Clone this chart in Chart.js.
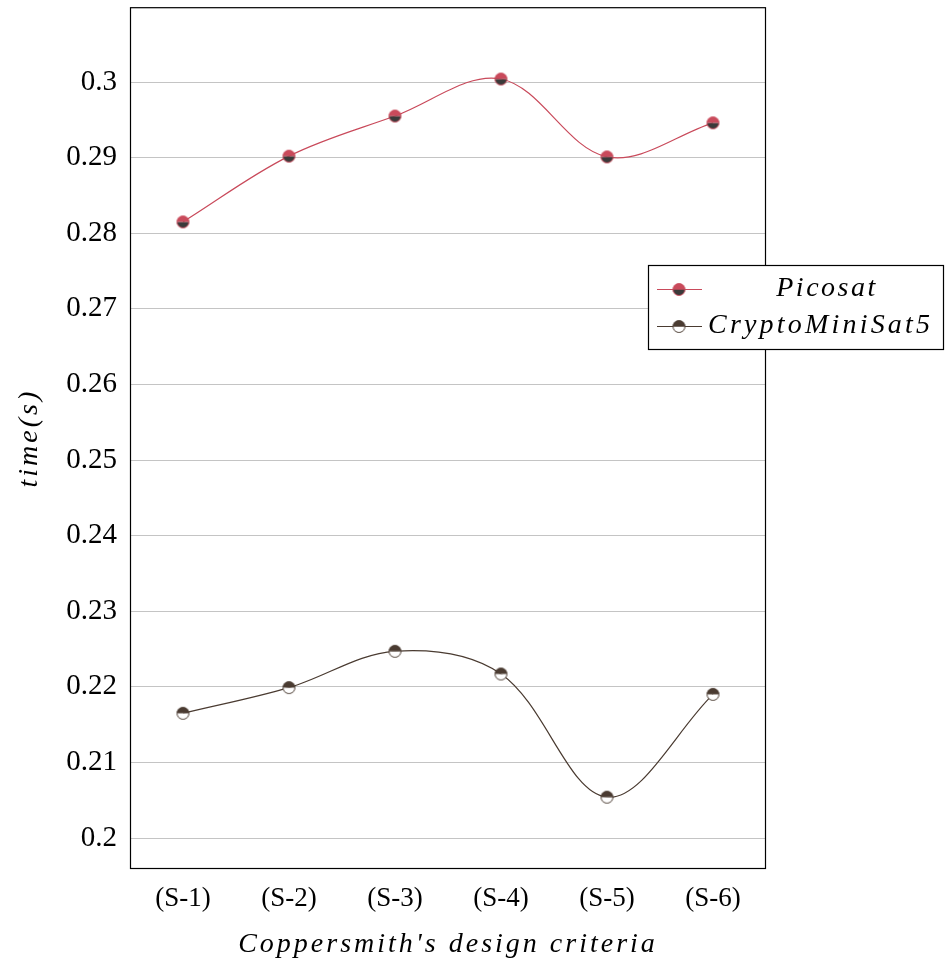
<!DOCTYPE html>
<html>
<head>
<meta charset="utf-8">
<script src="https://cdn.jsdelivr.net/npm/chart.js@4"></script>
<style>
  body { margin: 0; background: #fff; }
  #chart { display: block; }
</style>
</head>
<body>
<canvas id="chart" width="945" height="964"></canvas>
<script>
// données
const categories = ['(S-1)', '(S-2)', '(S-3)', '(S-4)', '(S-5)', '(S-6)'];
const picosat = [0.2815, 0.2902, 0.2955, 0.3004, 0.2901, 0.2946];
const cryptoMiniSat5 = [0.2165, 0.2199, 0.2247, 0.2217, 0.2054, 0.2190];
const yTicks = [0.2, 0.21, 0.22, 0.23, 0.24, 0.25, 0.26, 0.27, 0.28, 0.29, 0.3];
const yMin = 0.1959;
const yMax = 0.3099;

const SERIF = '"Liberation Serif", "DejaVu Serif", serif';
const RED = '#c94a5b';
const DARK = '#3a3a3a';
const BROWN = '#4a3b31';

// marqueur demi-cercle (haut / bas)
function halfMarker(top, bottom, edge) {
    const c = document.createElement('canvas');
    c.width = 15; c.height = 15;
    const g = c.getContext('2d');
    const r = 6;
    g.fillStyle = bottom;
    g.beginPath(); g.arc(7.5, 7.5, r, 0, Math.PI); g.fill();
    g.fillStyle = top;
    g.beginPath(); g.arc(7.5, 7.5, r, Math.PI, 2 * Math.PI); g.fill();
    g.strokeStyle = edge; g.lineWidth = 1;
    g.beginPath(); g.arc(7.5, 7.5, r, 0, 2 * Math.PI); g.stroke();
    return c;
}

const picoMarker = halfMarker(RED, DARK, RED);
const cmsMarker = halfMarker(BROWN, '#ffffff', BROWN);

const seriesInfo = [
    { label: 'Picosat', color: RED, marker: picoMarker },
    { label: 'CryptoMiniSat5', color: BROWN, marker: cmsMarker }
];

// cadre autour de la zone du graphique
const framePlugin = {
    id: 'frame',
    beforeDatasetsDraw(chart) {
        const a = chart.chartArea;
        const ctx = chart.ctx;
        ctx.save();
        ctx.strokeStyle = '#000';
        ctx.lineWidth = 1.2;
        ctx.strokeRect(a.left + 0.5, a.top + 0.5, a.right - a.left - 1, a.bottom - a.top - 1);
        ctx.restore();
    }
};

// titres des axes et légende
const textPlugin = {
    id: 'texts',
    afterDraw(chart) {
        const a = chart.chartArea;
        const ctx = chart.ctx;
        ctx.save();
        ctx.fillStyle = '#000';
        ctx.textBaseline = 'middle';
        ctx.textAlign = 'center';
        ctx.font = 'italic 28px ' + SERIF;
        ctx.letterSpacing = '3px';
        ctx.fillText("Coppersmith's design criteria", (a.left + a.right) / 2, 945);

        ctx.save();
        ctx.translate(30, (a.top + a.bottom) / 2);
        ctx.rotate(-Math.PI / 2);
        ctx.letterSpacing = '3px';
        ctx.fillText('time(s)', 0, 0);
        ctx.restore();

        // légende
        const lx = 648, ly = 265, lw = 296, lh = 85;
        ctx.letterSpacing = '0px';
        ctx.fillStyle = '#fff';
        ctx.fillRect(lx, ly, lw, lh);
        ctx.strokeStyle = '#000';
        ctx.lineWidth = 1.2;
        ctx.strokeRect(lx + 0.5, ly + 0.5, lw - 1, lh - 1);
        const rows = [289, 326];
        seriesInfo.forEach((s, i) => {
            const y = rows[i];
            ctx.strokeStyle = s.color;
            ctx.lineWidth = 1.2;
            ctx.beginPath();
            ctx.moveTo(657, y + 0.5);
            ctx.lineTo(702, y + 0.5);
            ctx.stroke();
            ctx.drawImage(s.marker, 679 - 7.5, y - 7.5 + 0.5);
            ctx.fillStyle = '#000';
            ctx.font = 'italic 28px ' + SERIF;
            if (i === 0) {
                ctx.letterSpacing = '2.5px';
                ctx.textAlign = 'center';
                ctx.fillText(s.label, 827, y);
            } else {
                ctx.letterSpacing = '3.2px';
                ctx.textAlign = 'left';
                ctx.fillText(s.label, 708, y);
            }
        });
        ctx.restore();
    }
};

const ctx = document.getElementById('chart');
new Chart(ctx, {
    type: 'line',
    data: {
        labels: categories,
        datasets: [{
            label: 'Picosat',
            data: picosat,
            borderColor: RED,
            borderWidth: 1.2,
            tension: 0.35,
            pointStyle: picoMarker,
            pointRadius: 6,
            fill: false
        }, {
            label: 'CryptoMiniSat5',
            data: cryptoMiniSat5,
            borderColor: BROWN,
            borderWidth: 1.2,
            tension: 0.35,
            pointStyle: cmsMarker,
            pointRadius: 6,
            fill: false
        }]
    },
    options: {
        responsive: false,
        animation: false,
        layout: { padding: { top: 6, right: 179, left: 0, bottom: 0 } },
        plugins: {
            legend: { display: false },
            tooltip: { enabled: false }
        },
        scales: {
            x: {
                type: 'category',
                offset: true,
                grid: { display: false },
                border: { display: false },
                ticks: {
                    color: '#000',
                    font: { family: SERIF, size: 27 },
                    padding: 6,
                    maxRotation: 0
                },
                afterFit: s => {
                    s.height = 95;
                    s.paddingLeft = 0;
                    s.paddingRight = 0;
                }
            },
            y: {
                min: yMin,
                max: yMax,
                afterBuildTicks: s => { s.ticks = yTicks.map(v => ({ value: v })); },
                grid: { color: '#c4c4c4', lineWidth: 1, drawTicks: false },
                border: { display: false },
                ticks: {
                    color: '#000',
                    font: { family: SERIF, size: 29 },
                    padding: 13,
                    callback: v => String(+v.toFixed(2))
                },
                afterFit: s => {
                    s.width = 130;
                    s.paddingTop = 0;
                    s.paddingBottom = 0;
                }
            }
        }
    },
    plugins: [framePlugin, textPlugin]
});
</script>
</body>
</html>
